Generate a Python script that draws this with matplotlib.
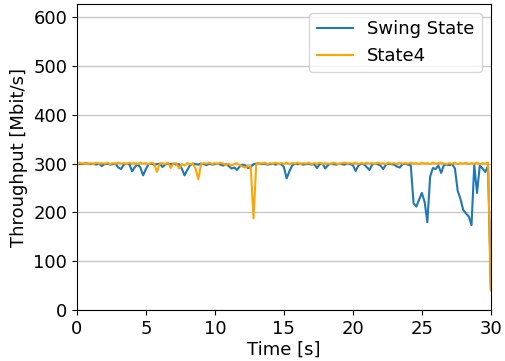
import numpy as np
import matplotlib
matplotlib.use("Agg")
import matplotlib.pyplot as plt

time_s = np.round(np.arange(0, 30.0001, 0.2), 1)

swing_state = [
    298, 300, 299, 301, 300,
    299, 300, 298, 300, 295,
    299, 300, 298, 299, 300,
    292, 289, 298, 300, 299,
    284, 293, 299, 292, 276,
    289, 299, 300, 298, 299,
    300, 293, 298, 300, 299,
    300, 298, 299, 290, 276,
    287, 297, 300, 299, 298,
    300, 299, 297, 300, 298,
    299, 300, 298, 296, 299,
    295, 290, 292, 287, 294,
    298, 296, 291, 293, 299,
    300, 301, 299, 300, 298,
    299, 300, 298, 300, 299,
    293, 270, 284, 296, 300,
    299, 300, 298, 299, 300,
    298, 299, 291, 299, 300,
    290, 297, 300, 299, 298,
    300, 299, 298, 300, 299,
    297, 285, 296, 300, 299,
    293, 287, 298, 300, 299,
    296, 289, 298, 300, 299,
    298, 294, 292, 299, 300,
    298, 296, 219, 212, 226,
    240, 222, 180, 273, 291,
    289, 296, 281, 297, 298,
    297, 299, 290, 244, 228,
    205, 198, 192, 174, 297,
    240, 296, 290, 283, 295,
    45,
]

state4 = [
    298, 302, 300, 301, 299,
    301, 299, 302, 300, 301,
    300, 302, 299, 301, 300,
    302, 300, 301, 299, 302,
    300, 301, 299, 302, 300,
    301, 299, 302, 300, 283,
    300, 301, 299, 302, 291,
    300, 301, 290, 299, 296,
    301, 299, 300, 290, 268,
    299, 301, 300, 302, 299,
    301, 299, 302, 300, 297,
    300, 296, 299, 301, 297,
    294, 292, 295, 293, 188,
    299, 301, 300, 302, 299,
    301, 300, 302, 299, 301,
    300, 302, 299, 301, 300,
    302, 299, 301, 300, 302,
    299, 301, 300, 302, 299,
    301, 300, 299, 302, 300,
    299, 301, 302, 300, 301,
    300, 302, 299, 301, 300,
    302, 300, 301, 299, 302,
    300, 301, 299, 302, 300,
    301, 299, 302, 300, 301,
    300, 302, 300, 301, 299,
    302, 300, 301, 299, 302,
    300, 301, 302, 300, 299,
    301, 300, 302, 299, 301,
    300, 302, 299, 301, 300,
    302, 299, 301, 300, 302,
    40,
]

series_labels = ["Swing State", "State4"]
x_ticks = [0, 5, 10, 15, 20, 25, 30]
y_ticks = [0, 100, 200, 300, 400, 500, 600]

fig = plt.figure(figsize=(5.06, 3.61), dpi=100)
ax = fig.add_axes([0.152, 0.141, 0.818, 0.848])

ax.plot(time_s, swing_state, color="#1f77b4", lw=1.5, label=series_labels[0])
ax.plot(time_s, state4, color="#FFA500", lw=1.5, label=series_labels[1])

ax.set_xlim(0, 30)
ax.set_ylim(0, 627)
ax.set_xticks(x_ticks)
ax.set_yticks(y_ticks)
ax.yaxis.grid(True, color="#c8c8c8", lw=1)
ax.set_axisbelow(True)
ax.tick_params(labelsize=13)
ax.set_xlabel("Time [s]", fontsize=13, labelpad=2)
ax.set_ylabel("Throughput [Mbit/s]", fontsize=13, labelpad=4)
ax.legend(loc="upper right", fontsize=13, frameon=True, handlelength=2.0)

fig.savefig("out.png", dpi=100)
